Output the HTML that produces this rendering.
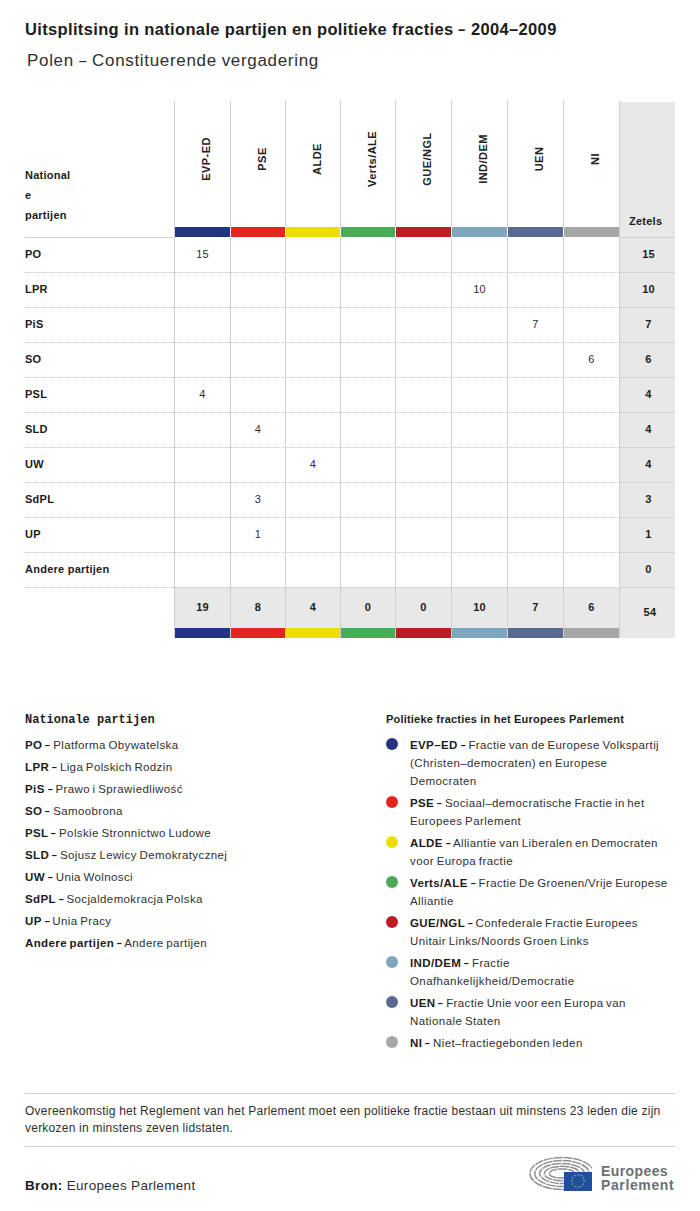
<!DOCTYPE html>
<html><head><meta charset="utf-8"><style>
html,body{margin:0;padding:0;background:#fff;width:700px;height:1211px;overflow:hidden;position:relative}
b{font-weight:700;color:#1c1c1c}
</style></head><body>
<div style="position:absolute;left:25px;top:19.28px;font:700 16.5px/20px 'Liberation Sans', sans-serif;letter-spacing:0.35px;color:#1c1c1c;white-space:nowrap;">Uitsplitsing in nationale partijen en politieke fracties <span style='display:inline-block;transform:scaleX(0.75);margin:0 -1px'>–</span> 2004–2009</div>
<div style="position:absolute;left:27px;top:50.91px;font:400 17px/20px 'Liberation Sans', sans-serif;letter-spacing:0.68px;color:#303030;white-space:nowrap;word-spacing:-0.6px">Polen <span style='display:inline-block;transform:scaleX(0.75);margin:0 -0.8px'>–</span> Constituerende vergadering</div>
<div style="position:absolute;left:619px;top:102px;width:56px;height:536px;background:#e8e8e8;"></div>
<div style="position:absolute;left:174px;top:587px;width:445px;height:51px;background:#e8e8e8;"></div>
<div style="position:absolute;left:174px;top:101px;width:1px;height:537px;background:#cfcfcf;"></div>
<div style="position:absolute;left:230px;top:101px;width:1px;height:537px;background:#cfcfcf;"></div>
<div style="position:absolute;left:285px;top:101px;width:1px;height:537px;background:#cfcfcf;"></div>
<div style="position:absolute;left:340px;top:101px;width:1px;height:537px;background:#cfcfcf;"></div>
<div style="position:absolute;left:395px;top:101px;width:1px;height:537px;background:#cfcfcf;"></div>
<div style="position:absolute;left:451px;top:101px;width:1px;height:537px;background:#cfcfcf;"></div>
<div style="position:absolute;left:507px;top:101px;width:1px;height:537px;background:#cfcfcf;"></div>
<div style="position:absolute;left:563px;top:101px;width:1px;height:537px;background:#cfcfcf;"></div>
<div style="position:absolute;left:619px;top:101px;width:1px;height:537px;background:#cfcfcf;"></div>
<div style="position:absolute;left:175px;top:227px;width:55px;height:10px;background:#24357f;"></div>
<div style="position:absolute;left:175px;top:628px;width:55px;height:10px;background:#24357f;"></div>
<div style="position:absolute;left:230px;top:227px;width:1px;height:10px;background:#fff;"></div>
<div style="position:absolute;left:231px;top:227px;width:54px;height:10px;background:#e3241f;"></div>
<div style="position:absolute;left:231px;top:628px;width:54px;height:10px;background:#e3241f;"></div>
<div style="position:absolute;left:285px;top:227px;width:1px;height:10px;background:#fff;"></div>
<div style="position:absolute;left:286px;top:227px;width:54px;height:10px;background:#eedd00;"></div>
<div style="position:absolute;left:286px;top:628px;width:54px;height:10px;background:#eedd00;"></div>
<div style="position:absolute;left:340px;top:227px;width:1px;height:10px;background:#fff;"></div>
<div style="position:absolute;left:341px;top:227px;width:54px;height:10px;background:#4aaa55;"></div>
<div style="position:absolute;left:341px;top:628px;width:54px;height:10px;background:#4aaa55;"></div>
<div style="position:absolute;left:395px;top:227px;width:1px;height:10px;background:#fff;"></div>
<div style="position:absolute;left:396px;top:227px;width:55px;height:10px;background:#bd1c22;"></div>
<div style="position:absolute;left:396px;top:628px;width:55px;height:10px;background:#bd1c22;"></div>
<div style="position:absolute;left:451px;top:227px;width:1px;height:10px;background:#fff;"></div>
<div style="position:absolute;left:452px;top:227px;width:55px;height:10px;background:#7ea7bf;"></div>
<div style="position:absolute;left:452px;top:628px;width:55px;height:10px;background:#7ea7bf;"></div>
<div style="position:absolute;left:507px;top:227px;width:1px;height:10px;background:#fff;"></div>
<div style="position:absolute;left:508px;top:227px;width:55px;height:10px;background:#586a92;"></div>
<div style="position:absolute;left:508px;top:628px;width:55px;height:10px;background:#586a92;"></div>
<div style="position:absolute;left:563px;top:227px;width:1px;height:10px;background:#fff;"></div>
<div style="position:absolute;left:564px;top:227px;width:55px;height:10px;background:#a7a7a7;"></div>
<div style="position:absolute;left:564px;top:628px;width:55px;height:10px;background:#a7a7a7;"></div>
<div style="position:absolute;left:25px;top:237px;width:150px;height:1px;background:#cfcfcf;"></div>
<div style="position:absolute;left:619px;top:237px;width:56px;height:1px;background:#d0d0d0;"></div>
<div style="position:absolute;left:25px;top:272px;width:594px;height:1px;background:transparent;background-image:repeating-linear-gradient(90deg,#c6c6c6 0 1px,transparent 1px 2px)"></div>
<div style="position:absolute;left:620px;top:272px;width:55px;height:1px;background:#d2d2d2;"></div>
<div style="position:absolute;left:25px;top:307px;width:594px;height:1px;background:transparent;background-image:repeating-linear-gradient(90deg,#c6c6c6 0 1px,transparent 1px 2px)"></div>
<div style="position:absolute;left:620px;top:307px;width:55px;height:1px;background:#d2d2d2;"></div>
<div style="position:absolute;left:25px;top:342px;width:594px;height:1px;background:transparent;background-image:repeating-linear-gradient(90deg,#c6c6c6 0 1px,transparent 1px 2px)"></div>
<div style="position:absolute;left:620px;top:342px;width:55px;height:1px;background:#d2d2d2;"></div>
<div style="position:absolute;left:25px;top:377px;width:594px;height:1px;background:transparent;background-image:repeating-linear-gradient(90deg,#c6c6c6 0 1px,transparent 1px 2px)"></div>
<div style="position:absolute;left:620px;top:377px;width:55px;height:1px;background:#d2d2d2;"></div>
<div style="position:absolute;left:25px;top:412px;width:594px;height:1px;background:transparent;background-image:repeating-linear-gradient(90deg,#c6c6c6 0 1px,transparent 1px 2px)"></div>
<div style="position:absolute;left:620px;top:412px;width:55px;height:1px;background:#d2d2d2;"></div>
<div style="position:absolute;left:25px;top:447px;width:594px;height:1px;background:transparent;background-image:repeating-linear-gradient(90deg,#c6c6c6 0 1px,transparent 1px 2px)"></div>
<div style="position:absolute;left:620px;top:447px;width:55px;height:1px;background:#d2d2d2;"></div>
<div style="position:absolute;left:25px;top:482px;width:594px;height:1px;background:transparent;background-image:repeating-linear-gradient(90deg,#c6c6c6 0 1px,transparent 1px 2px)"></div>
<div style="position:absolute;left:620px;top:482px;width:55px;height:1px;background:#d2d2d2;"></div>
<div style="position:absolute;left:25px;top:517px;width:594px;height:1px;background:transparent;background-image:repeating-linear-gradient(90deg,#c6c6c6 0 1px,transparent 1px 2px)"></div>
<div style="position:absolute;left:620px;top:517px;width:55px;height:1px;background:#d2d2d2;"></div>
<div style="position:absolute;left:25px;top:552px;width:594px;height:1px;background:transparent;background-image:repeating-linear-gradient(90deg,#c6c6c6 0 1px,transparent 1px 2px)"></div>
<div style="position:absolute;left:620px;top:552px;width:55px;height:1px;background:#d2d2d2;"></div>
<div style="position:absolute;left:25px;top:587px;width:594px;height:1px;background:transparent;background-image:repeating-linear-gradient(90deg,#c6c6c6 0 1px,transparent 1px 2px)"></div>
<div style="position:absolute;left:620px;top:587px;width:55px;height:1px;background:#d2d2d2;"></div>
<div style="position:absolute;left:25px;top:168.69px;font:700 11px/13px 'Liberation Sans', sans-serif;letter-spacing:0.25px;color:#1c1c1c;white-space:nowrap;">National</div>
<div style="position:absolute;left:25px;top:188.69px;font:700 11px/13px 'Liberation Sans', sans-serif;letter-spacing:0.25px;color:#1c1c1c;white-space:nowrap;">e</div>
<div style="position:absolute;left:25px;top:208.69px;font:700 11px/13px 'Liberation Sans', sans-serif;letter-spacing:0.25px;color:#1c1c1c;white-space:nowrap;">partijen</div>
<div style="position:absolute;left:629px;top:214.69px;font:700 11px/13px 'Liberation Sans', sans-serif;letter-spacing:0.25px;color:#1c1c1c;white-space:nowrap;">Zetels</div>
<div style="position:absolute;left:146.0px;top:152px;width:120px;height:14px;text-align:center;font:700 11px/14px 'Liberation Sans', sans-serif;letter-spacing:0.45px;color:#222;transform:rotate(-90deg);transform-origin:50% 50%;white-space:nowrap">EVP-ED</div>
<div style="position:absolute;left:201.5px;top:152px;width:120px;height:14px;text-align:center;font:700 11px/14px 'Liberation Sans', sans-serif;letter-spacing:0.45px;color:#222;transform:rotate(-90deg);transform-origin:50% 50%;white-space:nowrap">PSE</div>
<div style="position:absolute;left:256.5px;top:152px;width:120px;height:14px;text-align:center;font:700 11px/14px 'Liberation Sans', sans-serif;letter-spacing:0.45px;color:#222;transform:rotate(-90deg);transform-origin:50% 50%;white-space:nowrap">ALDE</div>
<div style="position:absolute;left:311.5px;top:152px;width:120px;height:14px;text-align:center;font:700 11px/14px 'Liberation Sans', sans-serif;letter-spacing:0.45px;color:#222;transform:rotate(-90deg);transform-origin:50% 50%;white-space:nowrap">Verts/ALE</div>
<div style="position:absolute;left:367.0px;top:152px;width:120px;height:14px;text-align:center;font:700 11px/14px 'Liberation Sans', sans-serif;letter-spacing:0.45px;color:#222;transform:rotate(-90deg);transform-origin:50% 50%;white-space:nowrap">GUE/NGL</div>
<div style="position:absolute;left:423.0px;top:152px;width:120px;height:14px;text-align:center;font:700 11px/14px 'Liberation Sans', sans-serif;letter-spacing:0.45px;color:#222;transform:rotate(-90deg);transform-origin:50% 50%;white-space:nowrap">IND/DEM</div>
<div style="position:absolute;left:479.0px;top:152px;width:120px;height:14px;text-align:center;font:700 11px/14px 'Liberation Sans', sans-serif;letter-spacing:0.45px;color:#222;transform:rotate(-90deg);transform-origin:50% 50%;white-space:nowrap">UEN</div>
<div style="position:absolute;left:535.0px;top:152px;width:120px;height:14px;text-align:center;font:700 11px/14px 'Liberation Sans', sans-serif;letter-spacing:0.45px;color:#222;transform:rotate(-90deg);transform-origin:50% 50%;white-space:nowrap">NI</div>
<div style="position:absolute;left:25px;top:247.69px;font:700 11px/13px 'Liberation Sans', sans-serif;letter-spacing:0.25px;color:#1c1c1c;white-space:nowrap;">PO</div>
<div style="position:absolute;left:152.5px;width:100px;text-align:center;top:247.69px;font:400 11px/13px 'Liberation Sans', sans-serif;letter-spacing:0.2px;color:#303030;white-space:nowrap">15</div>
<div style="position:absolute;left:598.5px;width:100px;text-align:center;top:247.69px;font:700 11px/13px 'Liberation Sans', sans-serif;letter-spacing:0.2px;color:#1c1c1c;white-space:nowrap">15</div>
<div style="position:absolute;left:25px;top:282.69px;font:700 11px/13px 'Liberation Sans', sans-serif;letter-spacing:0.25px;color:#1c1c1c;white-space:nowrap;">LPR</div>
<div style="position:absolute;left:429.5px;width:100px;text-align:center;top:282.69px;font:400 11px/13px 'Liberation Sans', sans-serif;letter-spacing:0.2px;color:#303030;white-space:nowrap">10</div>
<div style="position:absolute;left:598.5px;width:100px;text-align:center;top:282.69px;font:700 11px/13px 'Liberation Sans', sans-serif;letter-spacing:0.2px;color:#1c1c1c;white-space:nowrap">10</div>
<div style="position:absolute;left:25px;top:317.69px;font:700 11px/13px 'Liberation Sans', sans-serif;letter-spacing:0.25px;color:#1c1c1c;white-space:nowrap;">PiS</div>
<div style="position:absolute;left:485.5px;width:100px;text-align:center;top:317.69px;font:400 11px/13px 'Liberation Sans', sans-serif;letter-spacing:0.2px;color:#303030;white-space:nowrap">7</div>
<div style="position:absolute;left:598.5px;width:100px;text-align:center;top:317.69px;font:700 11px/13px 'Liberation Sans', sans-serif;letter-spacing:0.2px;color:#1c1c1c;white-space:nowrap">7</div>
<div style="position:absolute;left:25px;top:352.69px;font:700 11px/13px 'Liberation Sans', sans-serif;letter-spacing:0.25px;color:#1c1c1c;white-space:nowrap;">SO</div>
<div style="position:absolute;left:541.5px;width:100px;text-align:center;top:352.69px;font:400 11px/13px 'Liberation Sans', sans-serif;letter-spacing:0.2px;color:#303030;white-space:nowrap">6</div>
<div style="position:absolute;left:598.5px;width:100px;text-align:center;top:352.69px;font:700 11px/13px 'Liberation Sans', sans-serif;letter-spacing:0.2px;color:#1c1c1c;white-space:nowrap">6</div>
<div style="position:absolute;left:25px;top:387.69px;font:700 11px/13px 'Liberation Sans', sans-serif;letter-spacing:0.25px;color:#1c1c1c;white-space:nowrap;">PSL</div>
<div style="position:absolute;left:152.5px;width:100px;text-align:center;top:387.69px;font:400 11px/13px 'Liberation Sans', sans-serif;letter-spacing:0.2px;color:#303030;white-space:nowrap">4</div>
<div style="position:absolute;left:598.5px;width:100px;text-align:center;top:387.69px;font:700 11px/13px 'Liberation Sans', sans-serif;letter-spacing:0.2px;color:#1c1c1c;white-space:nowrap">4</div>
<div style="position:absolute;left:25px;top:422.69px;font:700 11px/13px 'Liberation Sans', sans-serif;letter-spacing:0.25px;color:#1c1c1c;white-space:nowrap;">SLD</div>
<div style="position:absolute;left:208.0px;width:100px;text-align:center;top:422.69px;font:400 11px/13px 'Liberation Sans', sans-serif;letter-spacing:0.2px;color:#303030;white-space:nowrap">4</div>
<div style="position:absolute;left:598.5px;width:100px;text-align:center;top:422.69px;font:700 11px/13px 'Liberation Sans', sans-serif;letter-spacing:0.2px;color:#1c1c1c;white-space:nowrap">4</div>
<div style="position:absolute;left:25px;top:457.69px;font:700 11px/13px 'Liberation Sans', sans-serif;letter-spacing:0.25px;color:#1c1c1c;white-space:nowrap;">UW</div>
<div style="position:absolute;left:263.0px;width:100px;text-align:center;top:457.69px;font:400 11px/13px 'Liberation Sans', sans-serif;letter-spacing:0.2px;color:#303030;white-space:nowrap">4</div>
<div style="position:absolute;left:598.5px;width:100px;text-align:center;top:457.69px;font:700 11px/13px 'Liberation Sans', sans-serif;letter-spacing:0.2px;color:#1c1c1c;white-space:nowrap">4</div>
<div style="position:absolute;left:25px;top:492.69px;font:700 11px/13px 'Liberation Sans', sans-serif;letter-spacing:0.25px;color:#1c1c1c;white-space:nowrap;">SdPL</div>
<div style="position:absolute;left:208.0px;width:100px;text-align:center;top:492.69px;font:400 11px/13px 'Liberation Sans', sans-serif;letter-spacing:0.2px;color:#303030;white-space:nowrap">3</div>
<div style="position:absolute;left:598.5px;width:100px;text-align:center;top:492.69px;font:700 11px/13px 'Liberation Sans', sans-serif;letter-spacing:0.2px;color:#1c1c1c;white-space:nowrap">3</div>
<div style="position:absolute;left:25px;top:527.69px;font:700 11px/13px 'Liberation Sans', sans-serif;letter-spacing:0.25px;color:#1c1c1c;white-space:nowrap;">UP</div>
<div style="position:absolute;left:208.0px;width:100px;text-align:center;top:527.69px;font:400 11px/13px 'Liberation Sans', sans-serif;letter-spacing:0.2px;color:#303030;white-space:nowrap">1</div>
<div style="position:absolute;left:598.5px;width:100px;text-align:center;top:527.69px;font:700 11px/13px 'Liberation Sans', sans-serif;letter-spacing:0.2px;color:#1c1c1c;white-space:nowrap">1</div>
<div style="position:absolute;left:25px;top:562.69px;font:700 11px/13px 'Liberation Sans', sans-serif;letter-spacing:0.25px;color:#1c1c1c;white-space:nowrap;">Andere partijen</div>
<div style="position:absolute;left:598.5px;width:100px;text-align:center;top:562.69px;font:700 11px/13px 'Liberation Sans', sans-serif;letter-spacing:0.2px;color:#1c1c1c;white-space:nowrap">0</div>
<div style="position:absolute;left:152.5px;width:100px;text-align:center;top:600.69px;font:700 11px/13px 'Liberation Sans', sans-serif;letter-spacing:0.2px;color:#1c1c1c;white-space:nowrap">19</div>
<div style="position:absolute;left:208.0px;width:100px;text-align:center;top:600.69px;font:700 11px/13px 'Liberation Sans', sans-serif;letter-spacing:0.2px;color:#1c1c1c;white-space:nowrap">8</div>
<div style="position:absolute;left:263.0px;width:100px;text-align:center;top:600.69px;font:700 11px/13px 'Liberation Sans', sans-serif;letter-spacing:0.2px;color:#1c1c1c;white-space:nowrap">4</div>
<div style="position:absolute;left:318.0px;width:100px;text-align:center;top:600.69px;font:700 11px/13px 'Liberation Sans', sans-serif;letter-spacing:0.2px;color:#1c1c1c;white-space:nowrap">0</div>
<div style="position:absolute;left:373.5px;width:100px;text-align:center;top:600.69px;font:700 11px/13px 'Liberation Sans', sans-serif;letter-spacing:0.2px;color:#1c1c1c;white-space:nowrap">0</div>
<div style="position:absolute;left:429.5px;width:100px;text-align:center;top:600.69px;font:700 11px/13px 'Liberation Sans', sans-serif;letter-spacing:0.2px;color:#1c1c1c;white-space:nowrap">10</div>
<div style="position:absolute;left:485.5px;width:100px;text-align:center;top:600.69px;font:700 11px/13px 'Liberation Sans', sans-serif;letter-spacing:0.2px;color:#1c1c1c;white-space:nowrap">7</div>
<div style="position:absolute;left:541.5px;width:100px;text-align:center;top:600.69px;font:700 11px/13px 'Liberation Sans', sans-serif;letter-spacing:0.2px;color:#1c1c1c;white-space:nowrap">6</div>
<div style="position:absolute;left:600.0px;width:100px;text-align:center;top:605.69px;font:700 11px/13px 'Liberation Sans', sans-serif;letter-spacing:0.3px;color:#1c1c1c;white-space:nowrap">54</div>
<div style="position:absolute;left:25px;top:713.34px;font:700 12px/14px 'Liberation Mono', monospace;letter-spacing:0px;color:#1c1c1c;white-space:nowrap;">Nationale partijen</div>
<div style="position:absolute;left:25px;top:738.02px;font:400 11.5px/14px 'Liberation Sans', sans-serif;letter-spacing:0.38px;color:#303030;white-space:nowrap;word-spacing:-0.9px"><b>PO <span style='display:inline-block;transform:scaleX(0.78);margin:0 -0.7px'>–</span></b> Platforma Obywatelska</div>
<div style="position:absolute;left:25px;top:760.02px;font:400 11.5px/14px 'Liberation Sans', sans-serif;letter-spacing:0.38px;color:#303030;white-space:nowrap;word-spacing:-0.9px"><b>LPR <span style='display:inline-block;transform:scaleX(0.78);margin:0 -0.7px'>–</span></b> Liga Polskich Rodzin</div>
<div style="position:absolute;left:25px;top:782.02px;font:400 11.5px/14px 'Liberation Sans', sans-serif;letter-spacing:0.38px;color:#303030;white-space:nowrap;word-spacing:-0.9px"><b>PiS <span style='display:inline-block;transform:scaleX(0.78);margin:0 -0.7px'>–</span></b> Prawo i Sprawiedliwość</div>
<div style="position:absolute;left:25px;top:804.02px;font:400 11.5px/14px 'Liberation Sans', sans-serif;letter-spacing:0.38px;color:#303030;white-space:nowrap;word-spacing:-0.9px"><b>SO <span style='display:inline-block;transform:scaleX(0.78);margin:0 -0.7px'>–</span></b> Samoobrona</div>
<div style="position:absolute;left:25px;top:826.02px;font:400 11.5px/14px 'Liberation Sans', sans-serif;letter-spacing:0.38px;color:#303030;white-space:nowrap;word-spacing:-0.9px"><b>PSL <span style='display:inline-block;transform:scaleX(0.78);margin:0 -0.7px'>–</span></b> Polskie Stronnictwo Ludowe</div>
<div style="position:absolute;left:25px;top:848.02px;font:400 11.5px/14px 'Liberation Sans', sans-serif;letter-spacing:0.38px;color:#303030;white-space:nowrap;word-spacing:-0.9px"><b>SLD <span style='display:inline-block;transform:scaleX(0.78);margin:0 -0.7px'>–</span></b> Sojusz Lewicy Demokratycznej</div>
<div style="position:absolute;left:25px;top:870.02px;font:400 11.5px/14px 'Liberation Sans', sans-serif;letter-spacing:0.38px;color:#303030;white-space:nowrap;word-spacing:-0.9px"><b>UW <span style='display:inline-block;transform:scaleX(0.78);margin:0 -0.7px'>–</span></b> Unia Wolnosci</div>
<div style="position:absolute;left:25px;top:892.02px;font:400 11.5px/14px 'Liberation Sans', sans-serif;letter-spacing:0.38px;color:#303030;white-space:nowrap;word-spacing:-0.9px"><b>SdPL <span style='display:inline-block;transform:scaleX(0.78);margin:0 -0.7px'>–</span></b> Socjaldemokracja Polska</div>
<div style="position:absolute;left:25px;top:914.02px;font:400 11.5px/14px 'Liberation Sans', sans-serif;letter-spacing:0.38px;color:#303030;white-space:nowrap;word-spacing:-0.9px"><b>UP <span style='display:inline-block;transform:scaleX(0.78);margin:0 -0.7px'>–</span></b> Unia Pracy</div>
<div style="position:absolute;left:25px;top:936.02px;font:400 11.5px/14px 'Liberation Sans', sans-serif;letter-spacing:0.38px;color:#303030;white-space:nowrap;word-spacing:-0.9px"><b>Andere partijen <span style='display:inline-block;transform:scaleX(0.78);margin:0 -0.7px'>–</span></b> Andere partijen</div>
<div style="position:absolute;left:386px;top:712.69px;font:700 11px/13px 'Liberation Sans', sans-serif;letter-spacing:0.2px;color:#1c1c1c;white-space:nowrap;">Politieke fracties in het Europees Parlement</div>
<div style="position:absolute;left:386px;top:738.2px;width:12px;height:12px;border-radius:50%;background:#24357f"></div>
<div style="position:absolute;left:410px;top:738.02px;font:400 11.5px/14px 'Liberation Sans', sans-serif;letter-spacing:0.38px;color:#303030;white-space:nowrap;word-spacing:-0.9px"><b>EVP–ED <span style='display:inline-block;transform:scaleX(0.78);margin:0 -0.7px'>–</span></b> Fractie van de Europese Volkspartij</div>
<div style="position:absolute;left:410px;top:756.02px;font:400 11.5px/14px 'Liberation Sans', sans-serif;letter-spacing:0.4px;color:#303030;white-space:nowrap;word-spacing:-0.9px">(Christen–democraten) en Europese</div>
<div style="position:absolute;left:410px;top:774.02px;font:400 11.5px/14px 'Liberation Sans', sans-serif;letter-spacing:0.4px;color:#303030;white-space:nowrap;word-spacing:-0.9px">Democraten</div>
<div style="position:absolute;left:386px;top:796.2px;width:12px;height:12px;border-radius:50%;background:#e3241f"></div>
<div style="position:absolute;left:410px;top:796.02px;font:400 11.5px/14px 'Liberation Sans', sans-serif;letter-spacing:0.38px;color:#303030;white-space:nowrap;word-spacing:-0.9px"><b>PSE <span style='display:inline-block;transform:scaleX(0.78);margin:0 -0.7px'>–</span></b> Sociaal–democratische Fractie in het</div>
<div style="position:absolute;left:410px;top:814.02px;font:400 11.5px/14px 'Liberation Sans', sans-serif;letter-spacing:0.4px;color:#303030;white-space:nowrap;word-spacing:-0.9px">Europees Parlement</div>
<div style="position:absolute;left:386px;top:836.2px;width:12px;height:12px;border-radius:50%;background:#eedd00"></div>
<div style="position:absolute;left:410px;top:836.02px;font:400 11.5px/14px 'Liberation Sans', sans-serif;letter-spacing:0.38px;color:#303030;white-space:nowrap;word-spacing:-0.9px"><b>ALDE <span style='display:inline-block;transform:scaleX(0.78);margin:0 -0.7px'>–</span></b> Alliantie van Liberalen en Democraten</div>
<div style="position:absolute;left:410px;top:854.02px;font:400 11.5px/14px 'Liberation Sans', sans-serif;letter-spacing:0.4px;color:#303030;white-space:nowrap;word-spacing:-0.9px">voor Europa fractie</div>
<div style="position:absolute;left:386px;top:876.2px;width:12px;height:12px;border-radius:50%;background:#4aaa55"></div>
<div style="position:absolute;left:410px;top:876.02px;font:400 11.5px/14px 'Liberation Sans', sans-serif;letter-spacing:0.38px;color:#303030;white-space:nowrap;word-spacing:-0.9px"><b>Verts/ALE <span style='display:inline-block;transform:scaleX(0.78);margin:0 -0.7px'>–</span></b> Fractie De Groenen/Vrije Europese</div>
<div style="position:absolute;left:410px;top:894.02px;font:400 11.5px/14px 'Liberation Sans', sans-serif;letter-spacing:0.4px;color:#303030;white-space:nowrap;word-spacing:-0.9px">Alliantie</div>
<div style="position:absolute;left:386px;top:916.2px;width:12px;height:12px;border-radius:50%;background:#bd1c22"></div>
<div style="position:absolute;left:410px;top:916.02px;font:400 11.5px/14px 'Liberation Sans', sans-serif;letter-spacing:0.38px;color:#303030;white-space:nowrap;word-spacing:-0.9px"><b>GUE/NGL <span style='display:inline-block;transform:scaleX(0.78);margin:0 -0.7px'>–</span></b> Confederale Fractie Europees</div>
<div style="position:absolute;left:410px;top:934.02px;font:400 11.5px/14px 'Liberation Sans', sans-serif;letter-spacing:0.4px;color:#303030;white-space:nowrap;word-spacing:-0.9px">Unitair Links/Noords Groen Links</div>
<div style="position:absolute;left:386px;top:956.2px;width:12px;height:12px;border-radius:50%;background:#7ea7bf"></div>
<div style="position:absolute;left:410px;top:956.02px;font:400 11.5px/14px 'Liberation Sans', sans-serif;letter-spacing:0.38px;color:#303030;white-space:nowrap;word-spacing:-0.9px"><b>IND/DEM <span style='display:inline-block;transform:scaleX(0.78);margin:0 -0.7px'>–</span></b> Fractie</div>
<div style="position:absolute;left:410px;top:974.02px;font:400 11.5px/14px 'Liberation Sans', sans-serif;letter-spacing:0.4px;color:#303030;white-space:nowrap;word-spacing:-0.9px">Onafhankelijkheid/Democratie</div>
<div style="position:absolute;left:386px;top:996.2px;width:12px;height:12px;border-radius:50%;background:#586a92"></div>
<div style="position:absolute;left:410px;top:996.02px;font:400 11.5px/14px 'Liberation Sans', sans-serif;letter-spacing:0.38px;color:#303030;white-space:nowrap;word-spacing:-0.9px"><b>UEN <span style='display:inline-block;transform:scaleX(0.78);margin:0 -0.7px'>–</span></b> Fractie Unie voor een Europa van</div>
<div style="position:absolute;left:410px;top:1014.02px;font:400 11.5px/14px 'Liberation Sans', sans-serif;letter-spacing:0.4px;color:#303030;white-space:nowrap;word-spacing:-0.9px">Nationale Staten</div>
<div style="position:absolute;left:386px;top:1036.2px;width:12px;height:12px;border-radius:50%;background:#a7a7a7"></div>
<div style="position:absolute;left:410px;top:1036.02px;font:400 11.5px/14px 'Liberation Sans', sans-serif;letter-spacing:0.38px;color:#303030;white-space:nowrap;word-spacing:-0.9px"><b>NI <span style='display:inline-block;transform:scaleX(0.78);margin:0 -0.7px'>–</span></b> Niet–fractiegebonden leden</div>
<div style="position:absolute;left:25px;top:1093px;width:650px;height:1px;background:#cfcfcf;"></div>
<div style="position:absolute;left:25px;top:1103.84px;font:400 12px/14px 'Liberation Sans', sans-serif;letter-spacing:0.23px;color:#303030;white-space:nowrap;">Overeenkomstig het Reglement van het Parlement moet een politieke fractie bestaan uit minstens 23 leden die zijn</div>
<div style="position:absolute;left:25px;top:1120.84px;font:400 12px/14px 'Liberation Sans', sans-serif;letter-spacing:0.23px;color:#303030;white-space:nowrap;">verkozen in minstens zeven lidstaten.</div>
<div style="position:absolute;left:25px;top:1146px;width:650px;height:1px;background:#cfcfcf;"></div>
<div style="position:absolute;left:25px;top:1178.32px;font:400 13.5px/16px 'Liberation Sans', sans-serif;letter-spacing:0.32px;color:#303030;white-space:nowrap;"><b>Bron:</b> Europees Parlement</div>
<div style="position:absolute;left:601px;top:1162.65px;font:700 14px/17px 'Liberation Sans', sans-serif;letter-spacing:0.4px;color:#6b7075;white-space:nowrap;">Europees</div>
<div style="position:absolute;left:601px;top:1177.15px;font:700 14px/17px 'Liberation Sans', sans-serif;letter-spacing:0.62px;color:#6b7075;white-space:nowrap;">Parlement</div>
<svg style="position:absolute;left:0;top:0" width="700" height="1211" viewBox="0 0 700 1211">
<clipPath id="cp"><polygon points="520,1150 592,1150 592,1172 564,1172 564,1200 520,1200"/></clipPath>
<g clip-path="url(#cp)"><ellipse cx="562" cy="1173.5" rx="32" ry="16" fill="none" stroke="#8d9195" stroke-width="1.5" stroke-dasharray="9 0.8"/><ellipse cx="562" cy="1173.5" rx="27.2" ry="13" fill="none" stroke="#8d9195" stroke-width="1.5" stroke-dasharray="9 0.8"/><ellipse cx="562" cy="1173.5" rx="22.4" ry="10" fill="none" stroke="#8d9195" stroke-width="1.5" stroke-dasharray="9 0.8"/><ellipse cx="562" cy="1173.5" rx="17.6" ry="7.2" fill="none" stroke="#8d9195" stroke-width="1.5" stroke-dasharray="9 0.8"/><ellipse cx="562" cy="1173.5" rx="12.8" ry="4.6" fill="none" stroke="#8d9195" stroke-width="1.5" stroke-dasharray="9 0.8"/></g>
<rect x="564" y="1172" width="28" height="19" fill="#1f4f9f"/>
<circle cx="584.20" cy="1181.00" r="0.65" fill="#e8d84a"/><circle cx="583.37" cy="1184.10" r="0.65" fill="#e8d84a"/><circle cx="581.10" cy="1186.37" r="0.65" fill="#e8d84a"/><circle cx="578.00" cy="1187.20" r="0.65" fill="#e8d84a"/><circle cx="574.90" cy="1186.37" r="0.65" fill="#e8d84a"/><circle cx="572.63" cy="1184.10" r="0.65" fill="#e8d84a"/><circle cx="571.80" cy="1181.00" r="0.65" fill="#e8d84a"/><circle cx="572.63" cy="1177.90" r="0.65" fill="#e8d84a"/><circle cx="574.90" cy="1175.63" r="0.65" fill="#e8d84a"/><circle cx="578.00" cy="1174.80" r="0.65" fill="#e8d84a"/><circle cx="581.10" cy="1175.63" r="0.65" fill="#e8d84a"/><circle cx="583.37" cy="1177.90" r="0.65" fill="#e8d84a"/>
</svg>
</body></html>
